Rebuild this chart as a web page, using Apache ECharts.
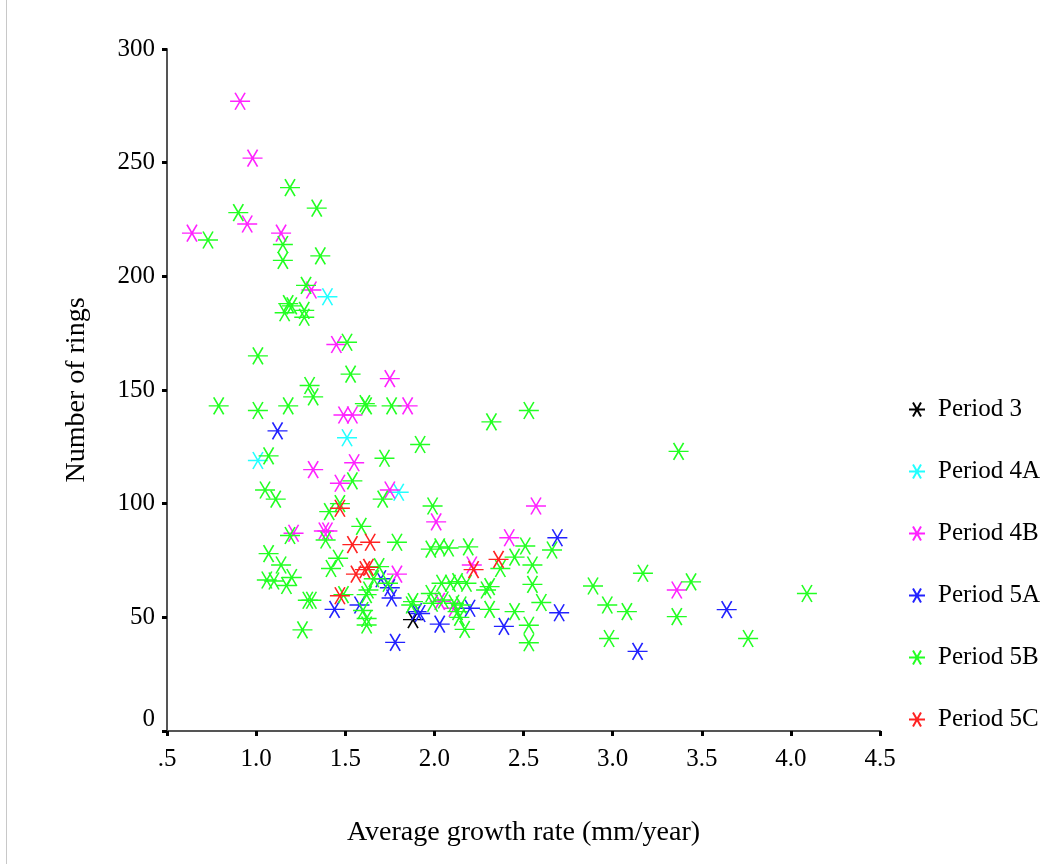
<!DOCTYPE html>
<html><head><meta charset="utf-8">
<script src="https://cdn.jsdelivr.net/npm/echarts@6/dist/echarts.min.js"></script>
<style>html,body{margin:0;padding:0;background:#fff}#c{width:1057px;height:864px}</style>
</head><body><div id="c"></div>
<script>
const seriesNames = ['Period 3','Period 4A','Period 4B','Period 5A','Period 5B','Period 5C'];
const seriesColors = ['#000000','#22ffff','#ff22ff','#2222ff','#22ff22','#ff2222'];
const xTicks = ['.5','1.0','1.5','2.0','2.5','3.0','3.5','4.0','4.5'];
const yTicks = ['0','50','100','150','200','250','300'];

const period3 = [[1.88,49]];
const period4A = [[1.40,191],[1.51,129],[1.01,119],[1.80,105]];
const period4B = [[0.91,277],[0.98,252],[0.95,223],[0.64,219],[1.14,219],[1.31,194],[1.45,170],[1.75,155],[1.85,143],[1.49,139],[1.54,139],[1.32,115],[1.55,118],[1.47,109],[1.75,106],[2.01,92],[2.57,99],[1.38,88],[1.40,88],[1.21,87],[1.79,69],[2.42,85],[2.21,73],[3.36,62],[2.03,57],[2.11,54]];
const period5A = [[1.12,132],[1.70,67],[1.75,63],[1.76,58.5],[1.44,53.5],[1.58,55.4],[1.78,39],[1.90,52.5],[1.92,51.7],[2.03,47],[2.20,54],[2.39,46],[2.69,85],[2.70,52],[3.14,35],[3.64,53.4]];
const period5B = [[1.19,239],[1.34,230],[0.90,228],[0.73,216],[1.15,214],[1.15,207],[1.36,209],[1.28,196],[1.18,188],[1.16,184],[1.27,185],[1.27,182],[1.20,187],[1.51,171],[1.01,165],[1.53,157],[1.30,152],[1.32,147],[0.79,143],[1.01,141],[1.18,143],[1.61,144],[1.62,143],[1.76,143],[2.53,141],[2.32,136],[1.92,126],[1.07,121],[1.72,120],[3.37,123],[1.54,110],[1.05,106],[1.11,102],[1.71,102],[1.47,100],[1.41,96.5],[1.99,99],[1.59,90],[1.19,86],[1.39,84],[1.79,83],[1.07,78],[1.46,76],[1.14,73],[1.42,71.5],[1.69,72.3],[1.06,66.4],[1.10,66],[1.20,67.5],[1.17,64],[1.66,67],[1.74,65],[1.63,62],[1.62,60],[1.49,60],[1.29,57.5],[1.31,57.5],[1.60,53],[1.62,49.5],[1.62,46.6],[1.26,44.5],[1.87,55.4],[1.98,80],[2.03,81],[2.08,80.5],[2.19,81],[2.51,81.4],[2.66,79.6],[2.45,76.5],[2.37,71.5],[2.55,73],[2.04,65],[2.09,65],[2.13,65.7],[2.18,65],[2.31,63.5],[2.29,62],[2.55,64.5],[1.98,60.5],[2.05,57.6],[2.11,56.2],[2.15,55.4],[1.99,56.2],[2.60,56.5],[2.31,53.5],[2.45,52.5],[2.13,52.5],[2.14,50],[2.17,44.7],[2.53,46.5],[2.53,38.8],[2.89,63.8],[2.97,55.4],[3.08,52.5],[2.98,40.7],[3.17,69.4],[3.44,65.6],[3.36,50.3],[4.09,60.5],[3.76,40.7],[1.88,56.9]];
const period5C = [[1.47,98],[1.54,82],[1.64,83],[1.63,72],[1.61,71],[1.56,69],[1.47,59.5],[2.36,75.5],[2.22,71]];

const allData = [period3, period4A, period4B, period5A, period5B, period5C];
const star = 'path://M-10,0 L10,0 M-5,-8.66 L5,8.66 M-5,8.66 L5,-8.66';
const font = "'Liberation Serif', 'Times New Roman', serif";

const chart = echarts.init(document.getElementById('c'), null, {renderer:'canvas'});
chart.setOption({
  backgroundColor:'#fff',
  animation:false,
  graphic:[{type:'line', shape:{x1:6.5,y1:0,x2:6.5,y2:864}, style:{stroke:'#c8c8c8', lineWidth:1}}],
  grid:{left:167, right:177, top:49, bottom:133, containLabel:false},
  xAxis:{type:'value', min:0.5, max:4.5, interval:0.5,
    name:'Average growth rate (mm/year)', nameLocation:'middle', nameGap:88,
    nameTextStyle:{fontFamily:font, fontSize:28, color:'#000'},
    axisLine:{show:true, lineStyle:{color:'#555', width:2}},
    axisTick:{show:true, length:5, lineStyle:{color:'#000', width:3}},
    axisLabel:{fontFamily:font, fontSize:25, color:'#000', margin:16,
      formatter:function(v){ return xTicks[Math.round((v-0.5)/0.5)]; }},
    splitLine:{show:false}},
  yAxis:{type:'value', min:0, max:300, interval:50,
    name:'Number of rings', nameLocation:'middle', nameGap:76,
    nameTextStyle:{fontFamily:font, fontSize:28, color:'#000'},
    axisLine:{show:true, lineStyle:{color:'#555', width:2}},
    axisTick:{show:true, length:5, lineStyle:{color:'#000', width:3}},
    axisLabel:{fontFamily:font, fontSize:25, color:'#000', margin:12,
      formatter:function(v){ var i=Math.round(v/50); return i===0 ? '{z|0}' : yTicks[i]; },
      rich:{z:{fontFamily:font, fontSize:25, color:'#000', padding:[0,0,24,0]}}},
    splitLine:{show:false}},
  legend:{orient:'vertical', left:903, top:392, itemGap:37, itemWidth:16, itemHeight:16,
    data:seriesNames,
    textStyle:{fontFamily:font, fontSize:25, color:'#000', padding:[0,0,0,8]}},
  series: allData.map(function(d,i){
    return {name:seriesNames[i], type:'scatter', data:d, symbol:star, symbolSize:[20,17],
      itemStyle:{color:seriesColors[i], borderColor:seriesColors[i], borderWidth:1.5, opacity:1}};
  })
});
</script></body></html>
